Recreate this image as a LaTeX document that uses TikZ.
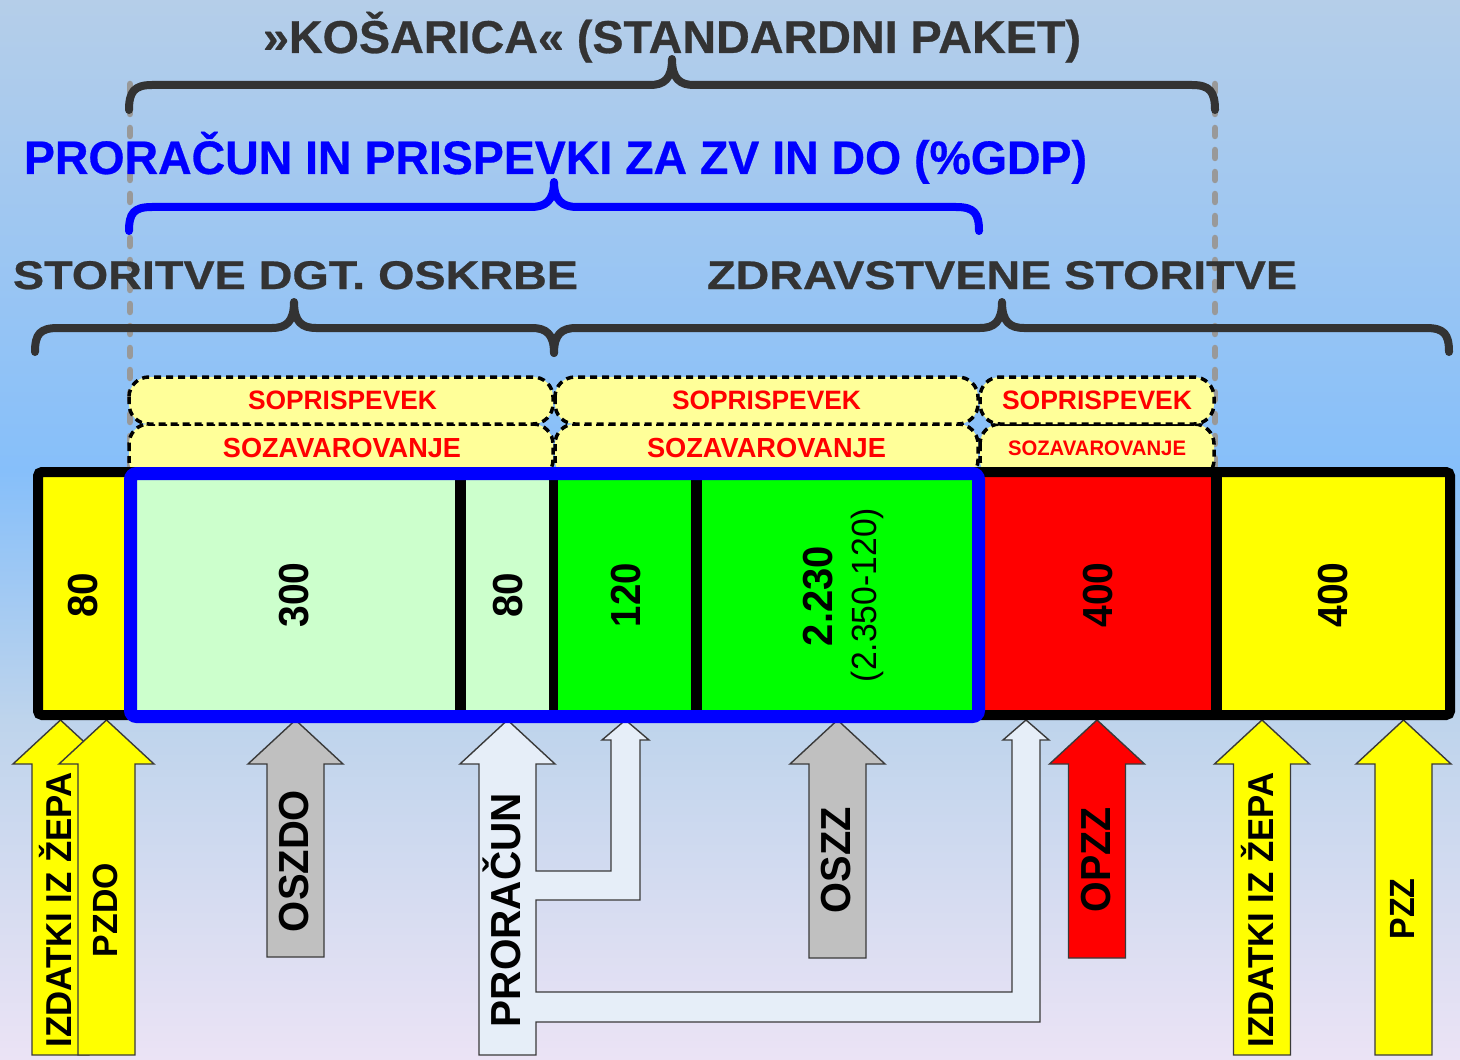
\documentclass[tikz,border=0pt]{standalone}
\usepackage{fontspec}
\setmainfont{Liberation Sans}
\usepackage{graphicx}
\newdimen\pxu \pxu=0.5pt
\newcommand\fitw[2]{\resizebox{#1\pxu}{\height}{#2}}
\newcommand\fsz[1]{\fontsize{#1}{#1}\selectfont\bfseries}
\newfontfamily\heavyfont[FakeBold=0.6]{Liberation Sans Bold}
\newcommand\hsz[1]{\fontsize{#1}{#1}\heavyfont}
\definecolor{dk}{HTML}{333333}
\definecolor{bgA}{HTML}{B5CEE9}
\definecolor{bgB}{HTML}{86BFFA}
\definecolor{bgC}{HTML}{BED4EC}
\definecolor{bgD}{HTML}{EBE3F5}
\definecolor{gdl}{HTML}{999999}
\definecolor{boxy}{HTML}{FFFF99}
\definecolor{cyel}{HTML}{FFFF00}
\definecolor{clg}{HTML}{CCFFCC}
\definecolor{cgr}{HTML}{00FF00}
\definecolor{cred}{HTML}{FF0000}
\definecolor{cgray}{HTML}{C0C0C0}
\definecolor{cpale}{HTML}{E6EEF8}
\definecolor{arrl}{HTML}{3A3A3A}
\definecolor{cblue}{HTML}{0000FF}
\pgfdeclareverticalshading{bgsh}{100bp}{color(0bp)=(bgD); color(25bp)=(bgD); color(41bp)=(bgC); color(52.8bp)=(bgB); color(75bp)=(bgA); color(100bp)=(bgA)}
\tikzset{
  gdash/.style={draw=gdl, line width=3.25pt, dash pattern=on 4pt off 7pt, line cap=round},
  brc/.style={draw=dk, line width=4pt, line cap=round, line join=round},
  dbox/.style={draw=black, fill=boxy, line width=1.75pt, dash pattern=on 3.5pt off 2.5pt, rounded corners=10pt},
  arr/.style={draw=arrl, line width=0.7pt, line join=miter},
  hd/.style={inner sep=0pt, anchor=base},
  rlab/.style={rotate=90, inner sep=0pt, text height=#1, text depth=0pt, anchor=center},
}
\newcommand\uparr[3]{\filldraw[arr,fill=#3] (#1-28.5,#2) -- (#1-28.5,764) -- (#1-47.5,764) -- (#1,720) -- (#1+47.5,764) -- (#1+28.5,764) -- (#1+28.5,#2) -- cycle;}
\begin{document}
\begin{tikzpicture}[x=0.5pt,y=-0.5pt]
\useasboundingbox (0,0) rectangle (1460,1059);
% background
\shade[shading=bgsh] (0,0) rectangle (1460,1059);
% gray dashed guides
\draw[gdash] (130,84) -- (130,470);
\draw[gdash] (1215,84) -- (1215,470);
% braces
\draw[brc] (129,110) .. controls (129,92) and (134,85) .. (152,85) -- (650,85)
  .. controls (664,85) and (672,79) .. (672,59) .. controls (672,79) and (680,85) .. (694,85)
  -- (1192,85) .. controls (1210,85) and (1215,92) .. (1215,110);
\draw[brc, draw=cblue] (129,231) .. controls (129,213) and (134,207) .. (152,207) -- (531,207)
  .. controls (545,207) and (554,201) .. (554,182) .. controls (554,201) and (563,207) .. (577,207)
  -- (956,207) .. controls (974,207) and (979,213) .. (979,231);
\draw[brc] (35,352) .. controls (35,334) and (40,328) .. (58,328) -- (272,328)
  .. controls (286,328) and (294,322) .. (294,302) .. controls (294,322) and (302,328) .. (316,328)
  -- (532,328) .. controls (546,328) and (554,334) .. (554,353);
\draw[brc] (554,353) .. controls (554,334) and (562,328) .. (576,328) -- (980,328)
  .. controls (994,328) and (1002,322) .. (1002,302) .. controls (1002,322) and (1010,328) .. (1024,328)
  -- (1426,328) .. controls (1444,328) and (1449,334) .. (1449,352);
% headings
\node[hd, text=dk, font=\hsz{23}] (t1) at (672,53) {\fitw{818}{»KOŠARICA« (STANDARDNI PAKET)}};
\node[hd, text=cblue, font=\hsz{23.5}] (t2) at (555.5,174) {\fitw{1063}{PRORAČUN IN PRISPEVKI ZA ZV IN DO (\%GDP)}};
\node[hd, text=dk, font=\hsz{20}] (t3) at (295.5,289) {\fitw{565}{STORITVE DGT. OSKRBE}};
\node[hd, text=dk, font=\hsz{20}] (t4) at (1002,289) {\fitw{590}{ZDRAVSTVENE STORITVE}};
% dashed boxes
\draw[dbox] (129,424) rectangle (553,480);
\draw[dbox] (555,424) rectangle (978,480);
\draw[dbox] (980,424) rectangle (1214,480);
\draw[dbox] (129,377) rectangle (553,424);
\draw[dbox] (555,377) rectangle (978,424);
\draw[dbox] (980,377) rectangle (1214,424);
\node[hd, text=cred, font=\fsz{13.3}] (s1) at (342.5,409) {\fitw{189}{SOPRISPEVEK}};
\node[hd, text=cred, font=\fsz{13.3}] (s2) at (766.5,409) {\fitw{189}{SOPRISPEVEK}};
\node[hd, text=cred, font=\fsz{13.3}] (s3) at (1097,409) {\fitw{190}{SOPRISPEVEK}};
\node[hd, text=cred, font=\fsz{13.8}] (z1) at (342,457) {\fitw{238}{SOZAVAROVANJE}};
\node[hd, text=cred, font=\fsz{13.8}] (z2) at (766.5,457) {\fitw{239}{SOZAVAROVANJE}};
\node[hd, text=cred, font=\fsz{10.5}] (z3) at (1097,455) {\fitw{178}{SOZAVAROVANJE}};
% arrows
\uparr{60.5}{1055}{cyel}
\uparr{106.5}{1055}{cyel}
\uparr{295.5}{957}{cgray}
\uparr{837.5}{958}{cgray}
\uparr{1097}{958}{cred}
\uparr{1262}{1055}{cyel}
\uparr{1403.5}{1055}{cyel}
\filldraw[arr, fill=cpale] (479,1055) -- (479,764) -- (460,764) -- (507.5,720) -- (555,764) -- (536,764)
  -- (536,871) -- (611,871) -- (611,740) -- (602,740) -- (625.5,720) -- (649,740) -- (640,740)
  -- (640,900) -- (536,900) -- (536,992) -- (1012,992) -- (1012,740) -- (1003,740) -- (1026,720)
  -- (1049,740) -- (1040,740) -- (1040,1022) -- (536,1022) -- (536,1055) -- cycle;
% bar
\fill[cyel] (38,472) rectangle (131,716);
\fill[clg] (131,472) rectangle (554,716);
\fill[cgr] (554,472) rectangle (979,716);
\fill[cred] (979,472) rectangle (1216,716);
\fill[cyel] (1216,472) rectangle (1450,716);
\draw[line width=5.5pt] (460.5,472) -- (460.5,716);
\draw[line width=4.5pt] (553.5,472) -- (553.5,716);
\draw[line width=5.5pt] (696,472) -- (696,716);
\draw[line width=5.5pt] (1216,472) -- (1216,716);
\draw[line width=5pt, rounded corners=2pt] (38,472) rectangle (1450,715);
\draw[draw=cblue, line width=6.5pt, rounded corners=3pt] (130.5,473.5) rectangle (978.5,716.5);
% cell numbers
\node[rlab=15pt, font=\fsz{21}] (n1) at (82,595) {\fitw{45}{80}};
\node[rlab=15pt, font=\fsz{21}] (n2) at (293.5,595) {\fitw{65}{300}};
\node[rlab=15pt, font=\fsz{21}] (n3) at (507,595) {\fitw{45}{80}};
\node[rlab=15pt, font=\fsz{21}] (n4) at (625,595) {\fitw{64}{120}};
\node[rlab=15pt, font=\fsz{21}] (n5) at (817,596) {\fitw{100}{2.230}};
\node[rlab=12.5pt, font=\fontsize{17.5}{17.5}\selectfont] (n6) at (864,595) {\fitw{174}{(2.350-120)}};
\node[rlab=15pt, font=\fsz{21}] (n7) at (1097,595) {\fitw{65}{400}};
\node[rlab=15pt, font=\fsz{21}] (n8) at (1332,595) {\fitw{65}{400}};
% arrow labels
\node[rlab=13pt, font=\fsz{18}] (a1) at (58,910) {\fitw{275}{IZDATKI IZ ŽEPA}};
\node[rlab=12.5pt, font=\fsz{17.5}] (a2) at (104.5,910) {\fitw{94}{PZDO}};
\node[rlab=15pt, font=\fsz{21}] (a3) at (293,861) {\fitw{142}{OSZDO}};
\node[rlab=15pt, font=\fsz{21}] (a4) at (505,910) {\fitw{234}{PRORAČUN}};
\node[rlab=15pt, font=\fsz{21}] (a5) at (835,860) {\fitw{106}{OSZZ}};
\node[rlab=15pt, font=\fsz{21}] (a6) at (1095,860) {\fitw{105}{OPZZ}};
\node[rlab=13pt, font=\fsz{18}] (a7) at (1260,910) {\fitw{275}{IZDATKI IZ ŽEPA}};
\node[rlab=12.5pt, font=\fsz{17.5}] (a8) at (1402,909) {\fitw{61}{PZZ}};
\end{tikzpicture}
\end{document}
